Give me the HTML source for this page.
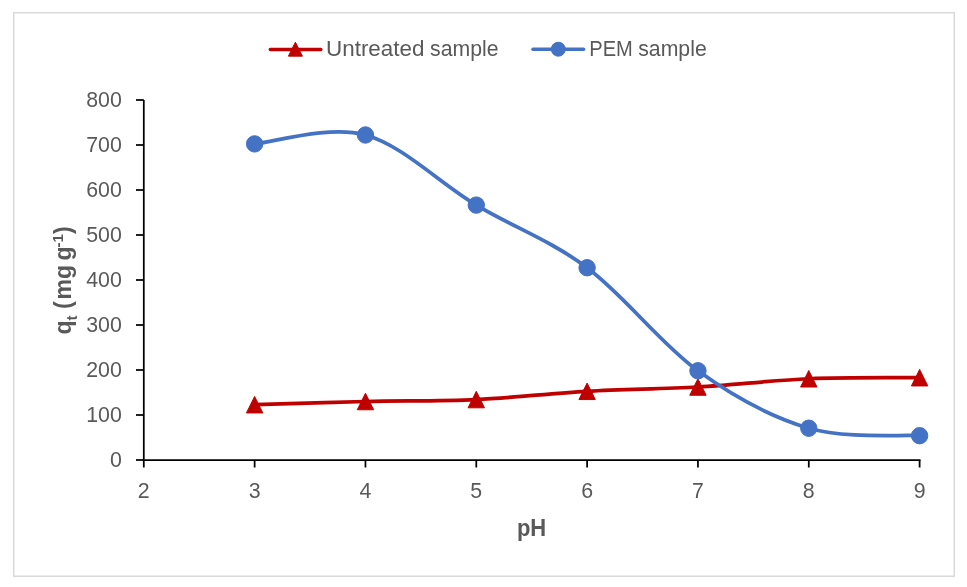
<!DOCTYPE html>
<html><head><meta charset="utf-8"><style>
html,body{margin:0;padding:0;background:#fff;width:967px;height:587px;overflow:hidden;font-family:"Liberation Sans",sans-serif;}
svg{display:block;will-change:transform;}
</style></head><body>
<svg width="967" height="587" viewBox="0 0 967 587">
<rect x="13.75" y="12.75" width="940.5" height="563.5" fill="#fff" stroke="#D9D9D9" stroke-width="1.5"/>
<g stroke="#000" stroke-width="1.75" fill="none">
<path d="M143.80,100 V460.9"/>
<path d="M136,460.00 H143.80"/>
<path d="M136,415.00 H143.80"/>
<path d="M136,370.00 H143.80"/>
<path d="M136,325.00 H143.80"/>
<path d="M136,280.00 H143.80"/>
<path d="M136,235.00 H143.80"/>
<path d="M136,190.00 H143.80"/>
<path d="M136,145.00 H143.80"/>
<path d="M136,100.00 H143.80"/>
<path d="M142.90,460.00 H920.51"/>
<path d="M143.80,460.00 V467.5"/>
<path d="M254.63,460.00 V467.5"/>
<path d="M365.46,460.00 V467.5"/>
<path d="M476.29,460.00 V467.5"/>
<path d="M587.12,460.00 V467.5"/>
<path d="M697.95,460.00 V467.5"/>
<path d="M808.78,460.00 V467.5"/>
<path d="M919.61,460.00 V467.5"/>
</g>
<text transform="translate(121.90,466.60) scale(0.950,1)" font-family="Liberation Sans, sans-serif" font-size="22.50" fill="#595959" text-anchor="end">0</text>
<text transform="translate(121.90,421.60) scale(0.950,1)" font-family="Liberation Sans, sans-serif" font-size="22.50" fill="#595959" text-anchor="end">100</text>
<text transform="translate(121.90,376.60) scale(0.950,1)" font-family="Liberation Sans, sans-serif" font-size="22.50" fill="#595959" text-anchor="end">200</text>
<text transform="translate(121.90,331.60) scale(0.950,1)" font-family="Liberation Sans, sans-serif" font-size="22.50" fill="#595959" text-anchor="end">300</text>
<text transform="translate(121.90,286.60) scale(0.950,1)" font-family="Liberation Sans, sans-serif" font-size="22.50" fill="#595959" text-anchor="end">400</text>
<text transform="translate(121.90,241.60) scale(0.950,1)" font-family="Liberation Sans, sans-serif" font-size="22.50" fill="#595959" text-anchor="end">500</text>
<text transform="translate(121.90,196.60) scale(0.950,1)" font-family="Liberation Sans, sans-serif" font-size="22.50" fill="#595959" text-anchor="end">600</text>
<text transform="translate(121.90,151.60) scale(0.950,1)" font-family="Liberation Sans, sans-serif" font-size="22.50" fill="#595959" text-anchor="end">700</text>
<text transform="translate(121.90,106.60) scale(0.950,1)" font-family="Liberation Sans, sans-serif" font-size="22.50" fill="#595959" text-anchor="end">800</text>
<text transform="translate(143.80,497.70) scale(0.950,1)" font-family="Liberation Sans, sans-serif" font-size="22.50" fill="#595959" text-anchor="middle">2</text>
<text transform="translate(254.63,497.70) scale(0.950,1)" font-family="Liberation Sans, sans-serif" font-size="22.50" fill="#595959" text-anchor="middle">3</text>
<text transform="translate(365.46,497.70) scale(0.950,1)" font-family="Liberation Sans, sans-serif" font-size="22.50" fill="#595959" text-anchor="middle">4</text>
<text transform="translate(476.29,497.70) scale(0.950,1)" font-family="Liberation Sans, sans-serif" font-size="22.50" fill="#595959" text-anchor="middle">5</text>
<text transform="translate(587.12,497.70) scale(0.950,1)" font-family="Liberation Sans, sans-serif" font-size="22.50" fill="#595959" text-anchor="middle">6</text>
<text transform="translate(697.95,497.70) scale(0.950,1)" font-family="Liberation Sans, sans-serif" font-size="22.50" fill="#595959" text-anchor="middle">7</text>
<text transform="translate(808.78,497.70) scale(0.950,1)" font-family="Liberation Sans, sans-serif" font-size="22.50" fill="#595959" text-anchor="middle">8</text>
<text transform="translate(919.61,497.70) scale(0.950,1)" font-family="Liberation Sans, sans-serif" font-size="22.50" fill="#595959" text-anchor="middle">9</text>
<text transform="translate(531.60,536.10) scale(0.957,1)" font-family="Liberation Sans, sans-serif" font-size="23.00" fill="#595959" text-anchor="middle" font-weight="bold">pH</text>
<text transform="translate(70.5,334.50) rotate(-90)" font-family="Liberation Sans, sans-serif" font-size="23" font-weight="bold" fill="#595959">q<tspan font-size="15" dy="6">t</tspan><tspan dy="-6"> (</tspan><tspan dx="2">m</tspan>g <tspan dx="-2">g</tspan><tspan font-size="15" dy="-8" dx="-1">-1</tspan><tspan dy="8">)</tspan></text>
<path d="M254.63,404.70 C273.10,404.17 328.52,402.36 365.46,401.50 C402.40,400.64 439.35,401.25 476.29,399.55 C513.23,397.85 550.18,393.39 587.12,391.30 C624.06,389.21 661.01,389.09 697.95,387.00 C734.89,384.91 771.84,380.30 808.78,378.75 C845.72,377.20 901.14,377.88 919.61,377.70" fill="none" stroke="#C00000" stroke-width="3.75" stroke-linejoin="round" stroke-linecap="round"/>
<path d="M254.63,396.45 L262.83,412.95 L246.43,412.95 Z" fill="#C00000" stroke="#C00000" stroke-width="1" stroke-linejoin="round"/>
<path d="M365.46,393.25 L373.66,409.75 L357.26,409.75 Z" fill="#C00000" stroke="#C00000" stroke-width="1" stroke-linejoin="round"/>
<path d="M476.29,391.30 L484.49,407.80 L468.09,407.80 Z" fill="#C00000" stroke="#C00000" stroke-width="1" stroke-linejoin="round"/>
<path d="M587.12,383.05 L595.32,399.55 L578.92,399.55 Z" fill="#C00000" stroke="#C00000" stroke-width="1" stroke-linejoin="round"/>
<path d="M697.95,378.75 L706.15,395.25 L689.75,395.25 Z" fill="#C00000" stroke="#C00000" stroke-width="1" stroke-linejoin="round"/>
<path d="M808.78,370.50 L816.98,387.00 L800.58,387.00 Z" fill="#C00000" stroke="#C00000" stroke-width="1" stroke-linejoin="round"/>
<path d="M919.61,369.45 L927.81,385.95 L911.41,385.95 Z" fill="#C00000" stroke="#C00000" stroke-width="1" stroke-linejoin="round"/>
<path d="M254.63,143.90 C273.10,142.42 328.52,124.80 365.46,135.00 C402.40,145.20 439.35,182.97 476.29,205.10 C513.23,227.22 550.18,240.13 587.12,267.75 C624.06,295.37 661.01,344.06 697.95,370.80 C734.89,397.54 771.84,417.38 808.78,428.20 C845.72,439.02 901.14,434.45 919.61,435.70" fill="none" stroke="#4472C4" stroke-width="3.75" stroke-linejoin="round" stroke-linecap="round"/>
<circle cx="254.63" cy="143.90" r="8.2" fill="#4472C4" stroke="#4472C4" stroke-width="1"/>
<circle cx="365.46" cy="135.00" r="8.2" fill="#4472C4" stroke="#4472C4" stroke-width="1"/>
<circle cx="476.29" cy="205.10" r="8.2" fill="#4472C4" stroke="#4472C4" stroke-width="1"/>
<circle cx="587.12" cy="267.75" r="8.2" fill="#4472C4" stroke="#4472C4" stroke-width="1"/>
<circle cx="697.95" cy="370.80" r="8.2" fill="#4472C4" stroke="#4472C4" stroke-width="1"/>
<circle cx="808.78" cy="428.20" r="8.2" fill="#4472C4" stroke="#4472C4" stroke-width="1"/>
<circle cx="919.61" cy="435.70" r="8.2" fill="#4472C4" stroke="#4472C4" stroke-width="1"/>
<path d="M270.3,49.4 H320.8" stroke="#C00000" stroke-width="3.5" stroke-linecap="round"/>
<path d="M295.40,42.15 L302.40,56.15 L288.40,56.15 Z" fill="#C00000" stroke="#C00000" stroke-width="1" stroke-linejoin="round"/>
<text transform="translate(326.00,55.90) scale(0.997,1)" font-family="Liberation Sans, sans-serif" font-size="22.50" fill="#595959" text-anchor="start">Untreated</text>
<text transform="translate(430.10,55.90) scale(0.945,1)" font-family="Liberation Sans, sans-serif" font-size="22.50" fill="#595959" text-anchor="start">sample</text>
<path d="M533,49.2 H583.6" stroke="#4472C4" stroke-width="3.5" stroke-linecap="round"/>
<circle cx="558.3" cy="49.2" r="7" fill="#4472C4" stroke="#4472C4" stroke-width="1"/>
<text transform="translate(589.30,55.90) scale(0.894,1)" font-family="Liberation Sans, sans-serif" font-size="22.50" fill="#595959" text-anchor="start">PEM</text>
<text transform="translate(638.20,55.90) scale(0.945,1)" font-family="Liberation Sans, sans-serif" font-size="22.50" fill="#595959" text-anchor="start">sample</text>
</svg>
</body></html>
